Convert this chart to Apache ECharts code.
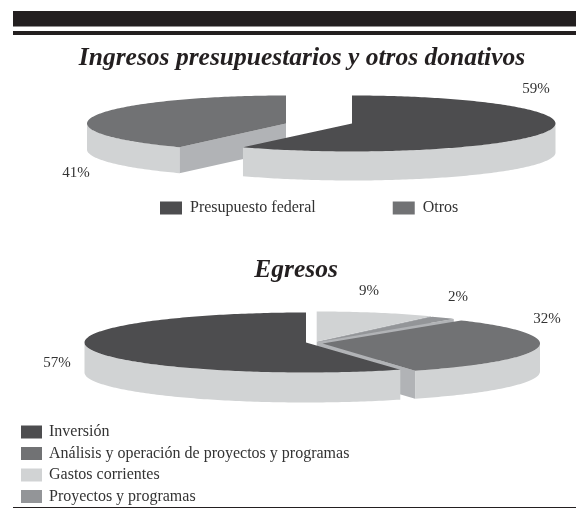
<!DOCTYPE html>
<html><head><meta charset="utf-8">
<style>html,body{margin:0;padding:0;background:#fff}#c{width:576px;height:509px}</style>
<script src="https://cdn.jsdelivr.net/npm/echarts@6/dist/echarts.min.js"></script>
</head><body><div id="c"></div>
<script>
// ---- data ----
const ingresosCats = ['Presupuesto federal', 'Otros'];
const ingresosValues = [59, 41];
const egresosCats = ['Gastos corrientes', 'Proyectos y programas', 'Análisis y operación de proyectos y programas', 'Inversión'];
const egresosValues = [9, 2, 32, 57];
const egresosLegendOrder = ['Inversión', 'Análisis y operación de proyectos y programas', 'Gastos corrientes', 'Proyectos y programas'];
const titles = ['Ingresos presupuestarios y otros donativos', 'Egresos'];

// ---- layout and style ----
const DARK = '#4d4d4f', MID = '#717274', LIGHT = '#d1d3d4', GRAY = '#939598', WALL = '#d1d3d4', FACE = '#b1b3b6', INK = '#231f20';
const SERIF = '"Liberation Serif","Times New Roman",serif';
const ingresosLayout = [
  {cx: 352, cy: 123.5, rx: 203.5, ry: 28, depth: 29, color: DARK, lx: 536, ly: 89, z: 3},
  {cx: 286, cy: 123.5, rx: 199, ry: 28, depth: 26, color: MID, lx: 76, ly: 173, z: 2}
];
const egresosLayout = [
  {cx: 316.7, cy: 341.5, rx: 213, ry: 30, depth: 28, color: LIGHT, lx: 369, ly: 291, z: 5},
  {cx: 318, cy: 342, rx: 213, ry: 30, depth: 28, color: GRAY, lx: 458, ly: 297, z: 6},
  {cx: 322.5, cy: 343.5, rx: 217.5, ry: 30, depth: 28, color: MID, lx: 547, ly: 319, z: 7},
  {cx: 306, cy: 342.5, rx: 221.5, ry: 30, depth: 30, color: DARK, lx: 57, ly: 363, z: 8}
];

function pt(l, deg, dy) {
  const a = deg * Math.PI / 180;
  return [l.cx + l.rx * Math.sin(a), l.cy - l.ry * Math.cos(a) + (dy || 0)];
}
function arc(l, a, b, dy) {
  const pts = [], n = Math.max(2, Math.ceil(Math.abs(b - a)));
  for (let i = 0; i <= n; i++) pts.push(pt(l, a + (b - a) * i / n, dy));
  return pts;
}
function poly(points, fill) {
  return {type: 'polygon', shape: {points}, style: {fill, stroke: null}};
}
function sliceSeries(name, value, t0, t1, l) {
  return {
    type: 'custom', name, coordinateSystem: 'none', z: l.z,
    itemStyle: {color: l.color}, data: [value], silent: true,
    renderItem() {
      const kids = [];
      const apex = [l.cx, l.cy], apexLow = [l.cx, l.cy + l.depth];
      // cut faces
      if (Math.sin(t0 * Math.PI / 180) < -1e-6) {
        kids.push(poly([apex, pt(l, t0), pt(l, t0, l.depth), apexLow], FACE));
      }
      if (Math.sin(t1 * Math.PI / 180) > 1e-6) {
        kids.push(poly([apex, pt(l, t1), pt(l, t1, l.depth), apexLow], FACE));
      }
      // outer wall: the part of the rim on the near half
      const a = Math.max(t0, 90), b = Math.min(t1, 270);
      if (b > a) {
        kids.push(poly(arc(l, a, b, 0).concat(arc(l, b, a, l.depth)), WALL));
      }
      // top
      kids.push(poly([apex].concat(arc(l, t0, t1, 0)), l.color));
      kids.push({type: 'text', z2: 50, style: {
        text: value + '%', x: l.lx, y: l.ly, fill: '#333', align: 'center', verticalAlign: 'middle',
        font: '15px ' + SERIF}});
      return {type: 'group', children: kids};
    }
  };
}
function pieSeries(cats, values, layouts) {
  const total = values.reduce((s, v) => s + v, 0);
  let acc = 0;
  const out = [];
  values.forEach((v, i) => {
    const t0 = acc / total * 360; acc += v;
    const t1 = acc / total * 360;
    out.push(sliceSeries(cats[i], v, t0, t1, layouts[i]));
  });
  return out;
}
const series = pieSeries(ingresosCats, ingresosValues, ingresosLayout)
  .concat(pieSeries(egresosCats, egresosValues, egresosLayout));

const titleStyle = {fontFamily: SERIF, fontStyle: 'italic', fontWeight: 'bold', fontSize: 25.5, color: INK};
const option = {
  animation: false,
  backgroundColor: '#fff',
  title: [
    {text: titles[0], left: 297, top: 40, textAlign: 'center', textStyle: titleStyle},
    {text: titles[1], left: 291, top: 252, textAlign: 'center', textStyle: titleStyle}
  ],
  legend: [
    {data: ingresosCats, left: 155, top: 195, orient: 'horizontal', itemWidth: 22, itemHeight: 13, itemGap: 77,
     icon: 'rect', selectedMode: false,
     textStyle: {fontFamily: SERIF, fontSize: 16, color: '#333', padding: [0, 0, 0, 3]}},
    {data: egresosLegendOrder, left: 16, top: 419, height: 90, orient: 'vertical', itemWidth: 21, itemHeight: 13, itemGap: 5.5,
     icon: 'rect', selectedMode: false,
     textStyle: {fontFamily: SERIF, fontSize: 16, color: '#333', padding: [0, 0, 0, 2]}}
  ],
  series,
  graphic: [
    {type: 'rect', shape: {x: 13, y: 11, width: 563, height: 15.5}, style: {fill: INK}, silent: true},
    {type: 'rect', shape: {x: 13, y: 31, width: 563, height: 4}, style: {fill: INK}, silent: true},
    {type: 'rect', shape: {x: 13, y: 507, width: 563, height: 1}, style: {fill: INK}, silent: true}
  ]
};
const chart = echarts.init(document.getElementById('c'), null, {renderer: 'canvas'});
chart.setOption(option);
</script></body></html>
